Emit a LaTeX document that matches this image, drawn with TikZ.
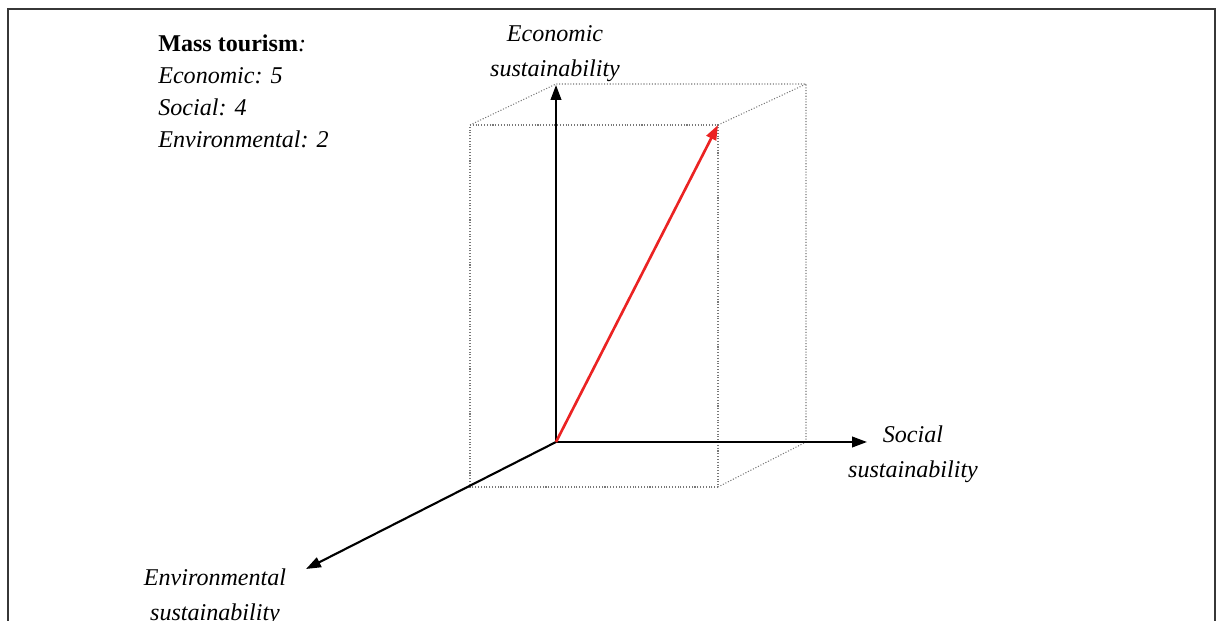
\documentclass[tikz,border=0pt]{standalone}
\usepackage{fontspec}
\setmainfont{Liberation Serif}
\usetikzlibrary{arrows.meta, positioning}
\definecolor{vecred}{RGB}{235, 35, 35}
\definecolor{framegray}{RGB}{55, 55, 55}
\definecolor{dotgray}{RGB}{120, 120, 120}
\tikzset{
    frameline/.style={draw=framegray, line width=1.4pt},
    boxline/.style={draw=dotgray, densely dotted, line width=0.6pt},
    axisarrow/.style={-{Triangle[length=8.5pt, width=6pt]}, line width=1.2pt, draw=black},
    vecarrow/.style={-{Triangle[length=8.5pt, width=6pt]}, line width=1.5pt, draw=vecred, fill=vecred},
    axislabel/.style={font=\fontsize{13.7pt}{20.4pt}\selectfont\itshape, align=center, inner sep=0pt},
    legendtext/.style={font=\fontsize{13.7pt}{18.4pt}\selectfont, align=left, inner sep=0pt},
}
\begin{document}
\begin{tikzpicture}[x=0.02cm, y=-0.02cm]
    \useasboundingbox (0,0) rectangle (1218,621);
    % Frame
    \draw[frameline] (8,625) -- (8,9) -- (1215,9) -- (1215,625);

    % Legend
    \node[legendtext, anchor=base west] (legend) at (158,148)
        {\textbf{Mass tourism}\textit{:}\\ \textit{Economic: 5}\\ \textit{Social: 4}\\ \textit{Environmental: 2}};

    % Axes end points
    \coordinate (O) at (556,442);
    \coordinate (econ) at (556,85);
    \coordinate (soc) at (867,442);
    \coordinate (env) at (306,569);

    % Box corners (back and front)
    \coordinate (b1) at (556,84);
    \coordinate (b2) at (806,84);
    \coordinate (b3) at (806,442);
    \coordinate (f1) at (470,125);
    \coordinate (f2) at (718,125);
    \coordinate (f3) at (718,487);
    \coordinate (f4) at (470,487);

    % Dotted box
    \draw[boxline] (f1) -- (f2) -- (f3) -- (f4) -- cycle;
    \draw[boxline] (f1) -- (b1) -- (b2) -- (b3) -- (f3);
    \draw[boxline] (f2) -- (b2);

    % Axes
    \draw[axisarrow] (O) -- (econ);
    \draw[axisarrow] (O) -- (soc);
    \draw[axisarrow] (O) -- (env);

    % Mass tourism vector
    \draw[vecarrow] (O) -- (f2);

    % Axis labels
    \node[axislabel, anchor=base] (econlabel) at (555,77) {Economic\\sustainability};
    \node[axislabel, anchor=base] (soclabel) at (913,478) {Social\\sustainability};
    \node[axislabel, anchor=base] (envlabel) at (215,621) {Environmental\\sustainability};
\end{tikzpicture}
\end{document}
